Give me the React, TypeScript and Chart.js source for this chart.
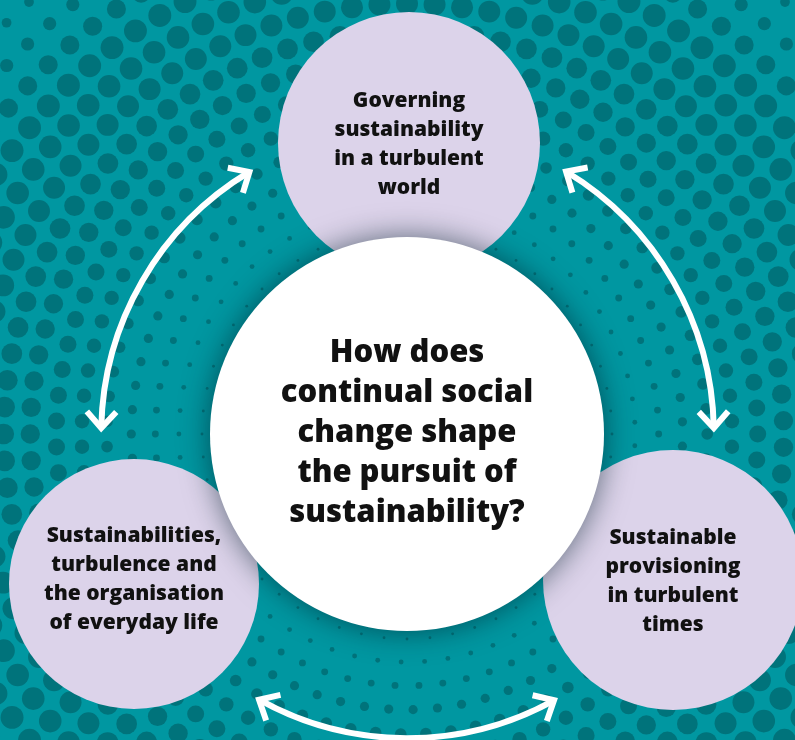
import React, { useEffect, useRef } from "react";
import { Chart, registerables } from "chart.js";

Chart.register(...registerables);

// ---- data ----
const nodeLabels: string[][] = [
  ["Governing", "sustainability", "in a turbulent", "world"],
  ["Sustainabilities,", "turbulence and", "the organisation", "of everyday life"],
  ["Sustainable", "provisioning", "in turbulent", "times"],
];
const nodeX = [409, 134, 673];
const nodeY = [143, 584, 580];
const nodeR = [131, 125, 130];

const centerLabel = ["How does", "continual social", "change shape", "the pursuit of", "sustainability?"];
const centerX = [407];
const centerY = [434];
const centerR = [197];

// double-headed arrows (tip positions)
const arrowFromX = [250, 567, 555];
const arrowFromY = [173, 170, 702];
const arrowToX = [100, 712, 260];
const arrowToY = [428, 428, 698];

// ---- styles ----
const BG = "#0097a1";
const DOT = "#00737b";
const NODE = "#dcd3ea";
const CENTER = "#ffffff";
const TEXT = "#111111";
const FONT = "'Open Sans', 'Noto Sans', sans-serif";

const dotProfile: [number, number][] = [
  [195, 1], [230, 2.5], [260, 3.8], [300, 5.8], [340, 8], [380, 9.8], [440, 11.2],
  [495, 11.5], [525, 8.5], [555, 5.5], [600, 4], [700, 3],
];
function dotRadius(r: number): number {
  if (r <= dotProfile[0][0]) return dotProfile[0][1];
  for (let i = 1; i < dotProfile.length; i++) {
    const [r1, v1] = dotProfile[i];
    const [r0, v0] = dotProfile[i - 1];
    if (r <= r1) return v0 + ((r - r0) / (r1 - r0)) * (v1 - v0);
  }
  return dotProfile[dotProfile.length - 1][1];
}

const backgroundPlugin = {
  id: "bgDots",
  beforeDraw(chart: any) {
    const { ctx, width, height } = chart;
    const xs = chart.scales.x;
    const ys = chart.scales.y;
    const cx = xs.getPixelForValue(centerX[0]);
    const cy = ys.getPixelForValue(centerY[0]);
    ctx.save();
    ctx.fillStyle = BG;
    ctx.fillRect(0, 0, width, height);
    ctx.fillStyle = DOT;
    let r = 205;
    let ring = 0;
    while (r < 680) {
      const step = 23 + (r - 200) * 0.02;
      const n = Math.round((2 * Math.PI * r) / step);
      const phase = (ring % 2) * 0.5;
      const dr = dotRadius(r);
      for (let k = 0; k < n; k++) {
        const a = ((k + phase) / n) * Math.PI * 2;
        const x = cx + r * Math.cos(a);
        const y = cy + r * Math.sin(a);
        if (x < -15 || x > width + 15 || y < -15 || y > height + 15) continue;
        ctx.beginPath();
        ctx.arc(x, y, dr, 0, Math.PI * 2);
        ctx.fill();
      }
      r += step;
      ring++;
    }
    ctx.restore();
  },
};

const arrowPlugin = {
  id: "arrows",
  beforeDatasetsDraw(chart: any) {
    const { ctx } = chart;
    const xs = chart.scales.x;
    const ys = chart.scales.y;
    const cx = xs.getPixelForValue(centerX[0]);
    const cy = ys.getPixelForValue(centerY[0]);
    ctx.save();
    ctx.strokeStyle = "#ffffff";
    ctx.lineWidth = 6;
    ctx.lineJoin = "miter";
    ctx.lineCap = "butt";
    for (let i = 0; i < arrowFromX.length; i++) {
      const ax = xs.getPixelForValue(arrowFromX[i]);
      const ay = ys.getPixelForValue(arrowFromY[i]);
      const bx = xs.getPixelForValue(arrowToX[i]);
      const by = ys.getPixelForValue(arrowToY[i]);
      const ta = Math.atan2(ay - cy, ax - cx);
      const tb = Math.atan2(by - cy, bx - cx);
      const rad = (Math.hypot(ax - cx, ay - cy) + Math.hypot(bx - cx, by - cy)) / 2;
      const anti = tb < ta;
      ctx.beginPath();
      ctx.arc(cx, cy, rad, ta, tb, anti);
      ctx.stroke();
      // arrowheads
      const heads: [number, number][] = [[ta, anti ? 1 : -1], [tb, anti ? -1 : 1]];
      for (const [t, sgn] of heads) {
        const px = cx + rad * Math.cos(t);
        const py = cy + rad * Math.sin(t);
        const dx = -Math.sin(t) * sgn;
        const dy = Math.cos(t) * sgn;
        const L = 22;
        const ang = (42 * Math.PI) / 180;
        const rot = (vx: number, vy: number, a: number) => [
          vx * Math.cos(a) - vy * Math.sin(a),
          vx * Math.sin(a) + vy * Math.cos(a),
        ];
        const [r1x, r1y] = rot(-dx, -dy, ang);
        const [r2x, r2y] = rot(-dx, -dy, -ang);
        ctx.beginPath();
        ctx.moveTo(px + L * r1x, py + L * r1y);
        ctx.lineTo(px, py);
        ctx.lineTo(px + L * r2x, py + L * r2y);
        ctx.stroke();
      }
    }
    ctx.restore();
  },
};

const shadowPlugin = {
  id: "centerShadow",
  beforeDatasetDraw(chart: any, args: any) {
    if (args.index === 0) {
      const ctx = chart.ctx;
      ctx.save();
      ctx.shadowColor = "rgba(0, 30, 40, 0.6)";
      ctx.shadowBlur = 30;
      ctx.shadowOffsetX = 0;
      ctx.shadowOffsetY = 0;
    }
  },
  afterDatasetDraw(chart: any, args: any) {
    if (args.index === 0) chart.ctx.restore();
  },
};

function drawBlock(ctx: any, lines: string[], x: number, y: number, size: number, lh: number) {
  ctx.font = `800 ${size}px ${FONT}`;
  const cap = size * 0.714;
  const n = lines.length;
  lines.forEach((line, i) => {
    const by = y - ((n - 1) * lh) / 2 + i * lh + cap / 2;
    ctx.fillText(line, x, by);
  });
}

const textPlugin = {
  id: "labels",
  afterDatasetsDraw(chart: any) {
    const { ctx } = chart;
    const xs = chart.scales.x;
    const ys = chart.scales.y;
    ctx.save();
    ctx.fillStyle = TEXT;
    ctx.textAlign = "center";
    ctx.textBaseline = "alphabetic";
    nodeLabels.forEach((lines, i) => {
      drawBlock(ctx, lines, xs.getPixelForValue(nodeX[i]), ys.getPixelForValue(nodeY[i]) - (i === 1 ? 6 : 0), 21, 29);
    });
    drawBlock(ctx, centerLabel, xs.getPixelForValue(centerX[0]), ys.getPixelForValue(centerY[0]) - 3, 31, 40);
    ctx.restore();
  },
};

export default function App() {
  const ref = useRef<HTMLCanvasElement | null>(null);
  useEffect(() => {
    document.body.style.margin = "0";
    if (!ref.current) return;
    const chart = new Chart(ref.current, {
      type: "bubble",
      data: {
        datasets: [
          {
            label: "Question",
            data: centerX.map((x, i) => ({ x, y: centerY[i], r: centerR[i] })),
            backgroundColor: CENTER,
            borderWidth: 0,
            order: 0,
            clip: false as any,
          },
          {
            label: "Themes",
            data: nodeX.map((x, i) => ({ x, y: nodeY[i], r: nodeR[i] })),
            backgroundColor: NODE,
            borderWidth: 0,
            order: 1,
            clip: false as any,
          },
        ],
      },
      options: {
        responsive: false,
        devicePixelRatio: 1,
        animation: false,
        events: [],
        layout: { padding: 0, autoPadding: false },
        plugins: { legend: { display: false }, tooltip: { enabled: false } },
        scales: {
          x: { type: "linear", min: 0, max: 795, display: false },
          y: { type: "linear", min: 0, max: 740, reverse: true, display: false },
        },
      },
      plugins: [backgroundPlugin, arrowPlugin, shadowPlugin, textPlugin],
    });
    return () => chart.destroy();
  }, []);
  return (
    <div style={{ position: "fixed", left: 0, top: 0, width: 795, height: 740 }}>
      <canvas ref={ref} width={795} height={740} style={{ display: "block" }} />
    </div>
  );
}
